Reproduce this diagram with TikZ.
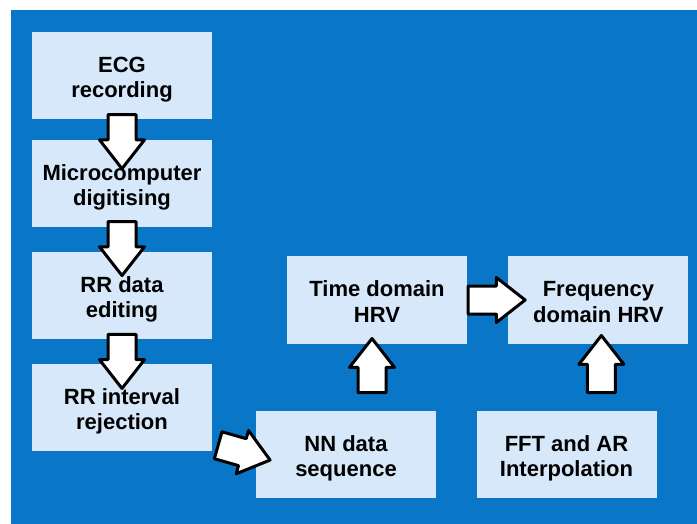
\documentclass[tikz,border=0pt]{standalone}
\usepackage{fontspec}
\setmainfont{Liberation Sans}
\usepackage{tikz}
\usetikzlibrary{shapes.arrows, positioning, calc}
\definecolor{bgblue}{RGB}{10, 118, 200}
\definecolor{boxblue}{RGB}{214, 232, 250}

\tikzset{
    stage/.style={fill=boxblue, minimum width=180pt, minimum height=87pt, inner sep=0pt, align=center,
        text height=44pt, text depth=0pt, font=\bfseries\fontsize{22}{25}\selectfont},
    fatarrow/.style={single arrow, draw=black, fill=white, line width=3pt, line join=round,
        inner xsep=0pt, inner ysep=12.5pt, single arrow head extend=8.5pt, single arrow tip angle=76,
        minimum height=#1, sloped, allow upside down},
    fatarrow/.default=54pt
}

\begin{document}
\begin{tikzpicture}[x=1pt, y=-1pt]
        \fill[white] (0,0) rectangle (697,524);
        \fill[bgblue] (11,10) rectangle (697,524);
        \useasboundingbox (0,0) rectangle (697,524);

        % left column
        \node[stage] (ecg) at (122,75.5) {ECG\\recording};
        \node[stage, below=21pt of ecg] (micro) {Microcomputer\\digitising};
        \node[stage, below=24pt of micro] (edit) {RR data\\editing};
        \node[stage, below=25pt of edit] (rrrej) {RR interval\\rejection};

        % right part
        \node[stage] (nn) at (346,454) {NN data\\sequence};
        \node[stage] (time) at (377,300) {Time domain\\HRV};
        \node[stage, right=41pt of time] (freq) {Frequency\\domain HRV};
        \node[stage] (fft) at (566.5,454) {FFT and AR\\Interpolation};

        \path ([yshift=-3pt]ecg.south) -- node[fatarrow] {} ([yshift=-3pt]micro.north);
        \path (micro.south) -- node[fatarrow] {} (edit.north);
        \path ([yshift=-1pt]edit.south) -- node[fatarrow] {} ([yshift=-1pt]rrrej.north);
        \path ([shift={(-4,-9)}]rrrej.south east) -- node[fatarrow=54pt] {} ([shift={(7,4)}]nn.west);
        \path ([shift={(-5,-2.5)}]time.south |- nn.north) -- node[fatarrow] {} ([shift={(-5,-2.5)}]time.south);
        \path (time.east) -- node[fatarrow=57pt] {} (freq.west);
        \path ([shift={(3,-4)}]freq.south |- fft.north) -- node[fatarrow=57pt] {} ([shift={(3,-4)}]freq.south);
    \end{tikzpicture}
\end{document}
